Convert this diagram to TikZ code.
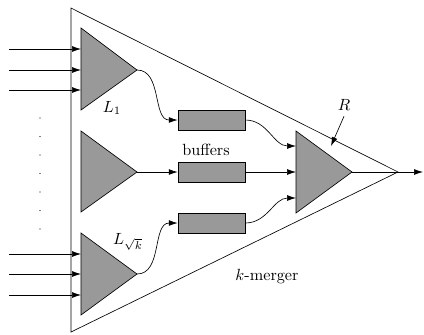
\documentclass[tikz,border=0pt]{standalone}
\usetikzlibrary{arrows.meta}

\tikzset{
  tri/.style={draw, fill=black!40},
  buffer/.style={draw, fill=black!40, minimum width=1.454cm, minimum height=0.434cm, inner sep=0pt},
}

\begin{document}
\begin{tikzpicture}[x=0.0217cm, y=-0.0217cm, >={Latex[length=5.5pt,width=3.6pt]}]
	\useasboundingbox (0,0) rectangle (424,334);
	% the k-merger
	\draw (71,8) -- (71,332) -- (398,172) -- cycle;
	% input mergers
	\draw[tri] (81,28) -- (81,110) -- (137,70) -- cycle;
	\draw[tri] (81,131) -- (81,212) -- (137,172) -- cycle;
	\draw[tri] (81,233) -- (81,315) -- (137,274) -- cycle;
	\coordinate (top) at (137,70);
	\coordinate (mid) at (137,172);
	\coordinate (bot) at (137,274);
	% output merger
	\draw[tri] (296,131) -- (296,213) -- (352,172) -- cycle;
	\coordinate (r1) at (296,146);
	\coordinate (r2) at (296,172);
	\coordinate (r3) at (296,198);
	\coordinate (rout) at (352,172);
	\coordinate (out) at (423,172);
	% buffers
	\node[buffer] (b1) at (211.5,120) {};
	\node[buffer] (b2) at (211.5,172) {};
	\node[buffer] (b3) at (211.5,223) {};
	% inputs
	\foreach \y in {49,70,90,254,274,295} {
		\coordinate (s) at (9,\y);
		\coordinate (e) at (81,\y);
		\draw[->] (s) -- (e);
	}
	\foreach \y in {118,136.5,...,230} \fill (40,\y) circle (0.6);
	% connections
	\draw[->] (top) to[out=0, in=180] (b1.west);
	\draw[->] (mid) -- (b2.west);
	\draw[->] (bot) to[out=0, in=180] (b3.west);
	\draw[->] (b1.east) to[out=0, in=180] (r1);
	\draw[->] (b2.east) -- (r2);
	\draw[->] (b3.east) to[out=0, in=180] (r3);
	\draw[->] (rout) -- (out);
	% labels
	\node (l1) at (112,108) {$L_1$};
	\node (buf) at (206,150) {buffers};
	\node (lk) at (128,242) {$L_{\sqrt{k}}$};
	\node (rlab) at (344,105) {$R$};
	\coordinate (rtip) at (331,146);
	\draw[->] (rlab.south) -- (rtip);
	\node (km) at (267,277) {$k$-merger};
\end{tikzpicture}
\end{document}
